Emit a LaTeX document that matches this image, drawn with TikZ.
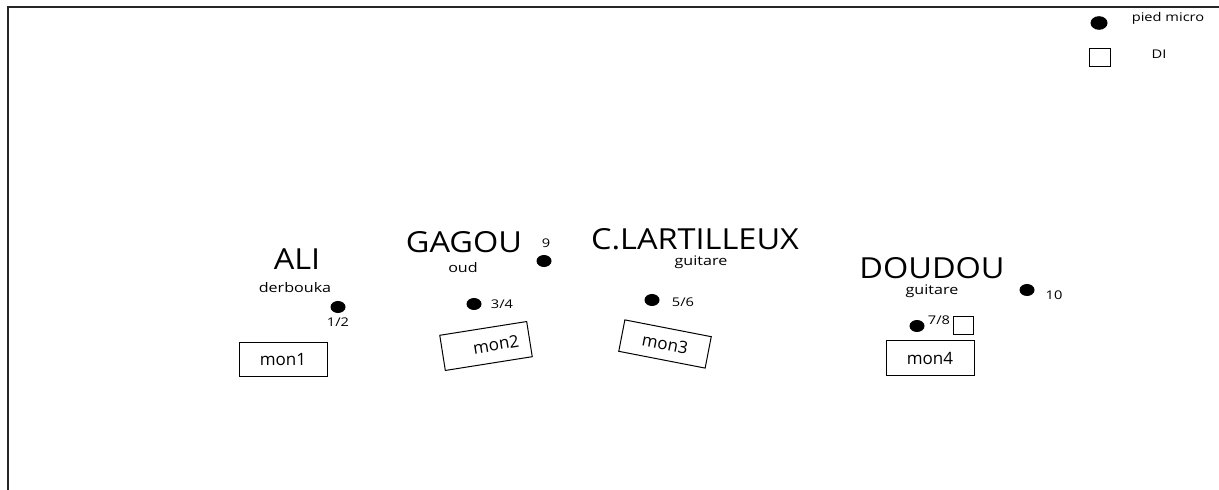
\documentclass[tikz,border=0pt]{standalone}
\usepackage{fontspec}
\setmainfont{Open Sans}
\usetikzlibrary{shapes.geometric}

\begin{document}
\begin{tikzpicture}[x=0.5pt,y=-0.5pt,
                    mic/.style={ellipse,fill=black,inner sep=0pt,minimum width=7.5pt,minimum height=6pt},
                    di/.style={draw,line width=0.5pt,inner sep=0pt,minimum width=10pt,minimum height=9pt},
                    monitor/.style={draw,line width=0.5pt,inner sep=0pt,minimum width=44pt,minimum height=17pt,font=\fontsize{8.5}{10}\selectfont},
                    txt/.style={inner sep=0pt,anchor=base,xscale=1.22},
                    musician/.style={txt,xscale=1.12/1.22,font=\fontsize{14.5}{17}\selectfont},
                    instr/.style={txt,font=\fontsize{6.6}{8}\selectfont},
                    chan/.style={txt,font=\fontsize{6}{7}\selectfont}]

  \useasboundingbox (0,0) rectangle (1219,490);
  % cadre de la scene
  \draw[line width=1pt,black!85] (8,490) -- (8,7) -- (1219,7);

  % legende
  \node[mic,minimum width=8.5pt,minimum height=6.8pt] (legmic) at (1099,23) {};
  \node[chan] (legmictxt) at (1168,22) {pied micro};
  \node[di,minimum width=10.5pt] (legdi) at (1100,58) {};
  \node[chan] (legditxt) at (1159,59) {DI};

  % ALI
  \node[musician] (ali) at (297,270) {ALI};
  \node[instr] (aliinstr) at (295,293) {derbouka};
  \node[mic] (mic12) at (338,307) {};
  \node[chan] (ch12) at (338,327) {1/2};
  \node[monitor] (mon1) at (283,360) {mon1};

  % GAGOU
  \node[musician] (gagou) at (464,253) {GAGOU};
  \node[chan] (ch9) at (546,248) {9};
  \node[mic] (mic9) at (544,261) {};
  \node[instr] (gagouinstr) at (463,273) {oud};
  \node[mic] (mic34) at (474,304) {};
  \node[chan] (ch34) at (502,309) {3/4};
  \node[monitor,rotate=9,minimum height=17.8pt] (mon2) at (486,346) {\hspace{10pt}mon2};

  % C.LARTILLEUX
  \node[musician] (lartilleux) at (695,250) {C.LARTILLEUX};
  \node[instr] (lartilleuxinstr) at (701,266) {guitare};
  \node[mic] (mic56) at (652,300) {};
  \node[chan] (ch56) at (683,307) {5/6};
  \node[monitor,rotate=-11,minimum height=16pt] (mon3) at (665,344) {mon3};

  % DOUDOU
  \node[musician] (doudou) at (932,279) {DOUDOU};
  \node[instr] (doudouinstr) at (932,295) {guitare};
  \node[mic] (mic10) at (1027,290) {};
  \node[chan] (ch10) at (1054,300) {10};
  \node[mic] (mic78) at (917,326) {};
  \node[chan] (ch78) at (939,325) {7/8};
  \node[di] (di78) at (963,326) {};
  \node[monitor,minimum height=17.5pt] (mon4) at (930,358) {mon4};
\end{tikzpicture}
\end{document}
